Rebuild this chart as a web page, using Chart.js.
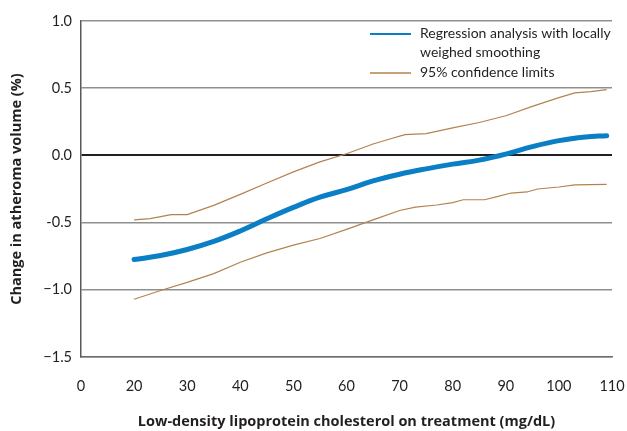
<!DOCTYPE html>
<html>
<head>
<meta charset="utf-8">
<script src="https://cdn.jsdelivr.net/npm/chart.js@4/dist/chart.umd.min.js"></script>
<style>
  html, body { margin: 0; padding: 0; background: #ffffff; }
  #wrap { width: 627px; height: 431px; }
</style>
</head>
<body>
<div id="wrap"><canvas id="chart" width="627" height="431"></canvas></div>
<script>
// LDL cholesterol on treatment (mg/dL) and change in atheroma volume (%)
const ldlFit = [20, 25, 30, 35, 40, 45, 50, 55, 60, 65, 70, 75, 80, 85, 90, 95, 100, 105, 109];
const changeFit = [-0.775, -0.745, -0.70, -0.64, -0.562, -0.472, -0.387, -0.311, -0.255, -0.19, -0.14, -0.10, -0.065, -0.035, 0.01, 0.065, 0.11, 0.137, 0.147];

const ldlUpper = [20, 23, 27, 30, 35, 40, 45, 50, 55, 60, 65, 68, 71, 75, 80, 85, 90, 95, 100, 103, 106, 109];
const upperLimit = [-0.48, -0.47, -0.44, -0.44, -0.372, -0.29, -0.205, -0.123, -0.048, 0.012, 0.085, 0.12, 0.155, 0.162, 0.205, 0.245, 0.295, 0.365, 0.43, 0.465, 0.475, 0.49];

const ldlLower = [20, 25, 30, 35, 40, 45, 50, 55, 60, 65, 70, 73, 77, 80, 82, 86, 88, 91, 94, 96, 100, 103, 109];
const lowerLimit = [-1.07, -1.005, -0.945, -0.88, -0.795, -0.725, -0.668, -0.618, -0.55, -0.48, -0.41, -0.385, -0.369, -0.351, -0.33, -0.33, -0.31, -0.28, -0.272, -0.25, -0.235, -0.22, -0.215];

// Axis tick labels (the first x position stands in for 0 after an axis break)
const xTickLabels = {10: '0', 20: '20', 30: '30', 40: '40', 50: '50', 60: '60', 70: '70', 80: '80', 90: '90', 100: '100', 110: '110'};
const yTickLabels = {'1': '1.0', '0.5': '0.5', '0': '0.0', '-0.5': '-0.5', '-1': '\u22121.0', '-1.5': '\u22121.5'};

const legendFit = ['Regression analysis with locally', 'weighed smoothing'];
const legendBand = '95% confidence limits';

const BLUE = '#0a7fc6';
const BROWN = '#b3834f';
const FONT = 'Lato, "Open Sans", sans-serif';
const TITLE_FONT = '"Open Sans", Lato, sans-serif';

const pts = (xs, ys) => xs.map((x, i) => ({x: x, y: ys[i]}));

// Legend drawn in the upper right of the plot
const legendPlugin = {
  id: 'cornerLegend',
  afterDraw(chart) {
    const ctx = chart.ctx;
    ctx.save();
    ctx.font = '14px ' + FONT;
    ctx.fillStyle = '#231f20';
    ctx.textBaseline = 'middle';
    ctx.textAlign = 'left';
    // regression line sample
    ctx.strokeStyle = BLUE;
    ctx.lineWidth = 2;
    ctx.beginPath(); ctx.moveTo(370, 34); ctx.lineTo(411, 34); ctx.stroke();
    ctx.fillText(legendFit[0], 420, 33);
    ctx.fillText(legendFit[1], 420, 52);
    // confidence sample
    ctx.strokeStyle = BROWN;
    ctx.lineWidth = 1.3;
    ctx.beginPath(); ctx.moveTo(370, 73); ctx.lineTo(411, 73); ctx.stroke();
    ctx.fillText(legendBand, 420, 72);
    ctx.restore();
  }
};

new Chart(document.getElementById('chart'), {
  type: 'line',
  data: {
    datasets: [
      {
        label: 'Upper 95% confidence limit',
        data: pts(ldlUpper, upperLimit),
        borderColor: BROWN,
        borderWidth: 1.2,
        pointRadius: 0,
        tension: 0,
        fill: false
      },
      {
        label: 'Lower 95% confidence limit',
        data: pts(ldlLower, lowerLimit),
        borderColor: BROWN,
        borderWidth: 1.2,
        pointRadius: 0,
        tension: 0,
        fill: false
      },
      {
        label: 'Regression analysis with locally weighed smoothing',
        data: pts(ldlFit, changeFit),
        borderColor: BLUE,
        borderWidth: 5,
        borderCapStyle: 'round',
        pointRadius: 0,
        tension: 0.4,
        fill: false
      }
    ]
  },
  options: {
    responsive: false,
    animation: false,
    devicePixelRatio: 1,
    layout: { padding: { left: 0, right: 15, top: 21, bottom: 0 } },
    plugins: {
      legend: { display: false },
      tooltip: { enabled: false }
    },
    scales: {
      x: {
        type: 'linear',
        min: 10,
        max: 110,
        afterFit(scale) {
          scale.height = 74;
          scale.paddingLeft = 0;
          scale.paddingRight = 0;
        },
        afterBuildTicks(scale) {
          scale.ticks = Object.keys(xTickLabels).map(v => ({value: Number(v)}));
        },
        grid: { display: false, drawTicks: false },
        border: { display: true, color: '#6d6e71', width: 1.5 },
        ticks: {
          color: '#231f20',
          font: { family: FONT, size: 14.5 },
          padding: 21,
          maxRotation: 0,
          autoSkip: false,
          callback: v => xTickLabels[v]
        },
        title: {
          display: true,
          text: 'Low-density lipoprotein cholesterol on treatment (mg/dL)',
          color: '#231f20',
          font: { family: TITLE_FONT, size: 14.5, weight: 'bold' },
          padding: { top: 1, bottom: 0 }
        }
      },
      y: {
        min: -1.5,
        max: 1.0,
        afterFit(scale) { scale.width = 81; },
        ticks: {
          stepSize: 0.5,
          color: '#231f20',
          font: { family: FONT, size: 14.5 },
          padding: 9,
          callback: v => yTickLabels[String(v)]
        },
        grid: {
          drawTicks: false,
          color: c => (c.tick && c.tick.value === 0) ? '#231f20' : '#8f8f8f',
          lineWidth: c => (c.tick && c.tick.value === 0) ? 2 : 1.5
        },
        border: { display: true, color: '#58595b', width: 1.5 },
        title: {
          display: true,
          text: 'Change in atheroma volume (%)',
          color: '#231f20',
          font: { family: TITLE_FONT, size: 14.5, weight: 'bold' },
          padding: { top: 8, bottom: 0 }
        }
      }
    }
  },
  plugins: [legendPlugin]
});
</script>
</body>
</html>
